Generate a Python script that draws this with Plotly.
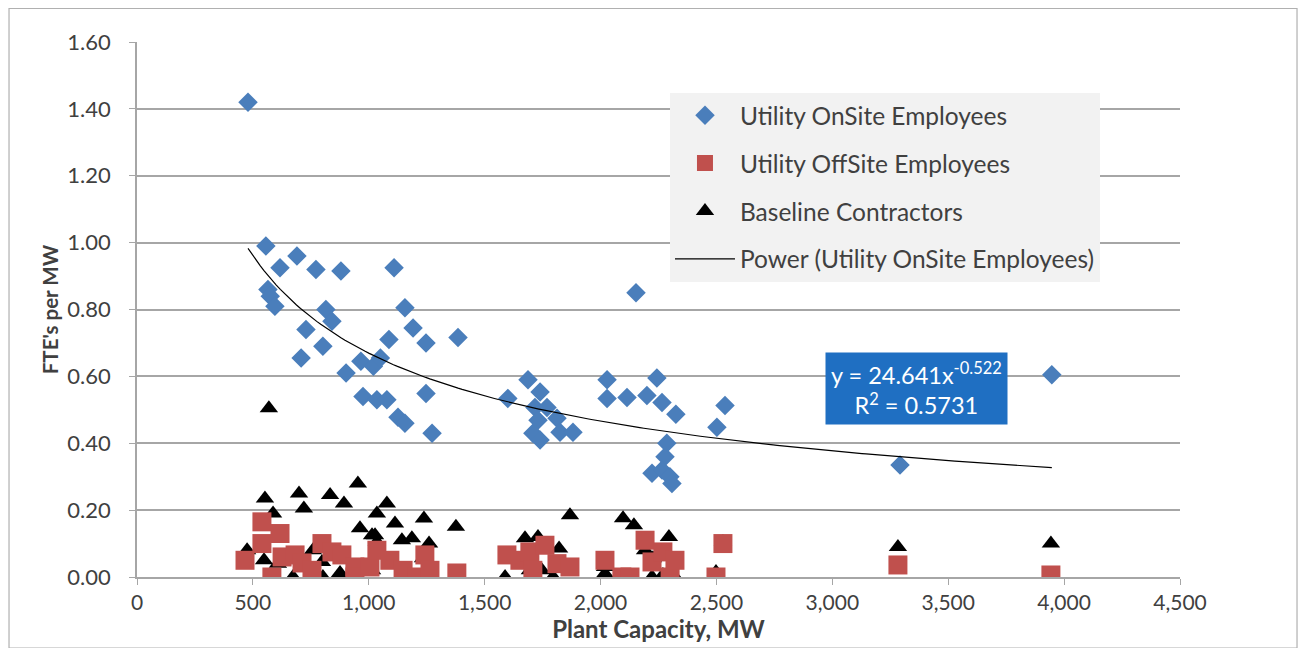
import numpy as np
import plotly.graph_objects as go

# ---- data ----
onsite_x = [479, 556, 565, 575, 595, 617, 690, 708, 729, 772, 802, 815, 841, 880, 902,
            966, 975, 1020, 1050, 1035, 1078, 1087, 1109, 1126, 1156, 1156, 1191, 1247,
            1247, 1273, 1385, 1600, 1687, 1708, 1717, 1730, 1739, 1739, 1769, 1812, 1825,
            1881, 2028, 2028, 2114, 2153, 2200, 2243, 2265, 2286, 2278, 2222, 2265, 2299,
            2308, 2325, 2502, 2537, 3292, 3947]
onsite_y = [1.42, 0.99, 0.86, 0.84, 0.81, 0.925, 0.96, 0.655, 0.74, 0.92, 0.69, 0.80, 0.765,
            0.915, 0.61, 0.645, 0.54, 0.63, 0.655, 0.53, 0.53, 0.71, 0.925, 0.478, 0.46, 0.805,
            0.745, 0.70, 0.549, 0.43, 0.716, 0.534, 0.59, 0.43, 0.507, 0.469, 0.553, 0.41,
            0.507, 0.475, 0.433, 0.433, 0.59, 0.534, 0.537, 0.85, 0.543, 0.595, 0.522, 0.40,
            0.36, 0.31, 0.32, 0.30, 0.28, 0.487, 0.448, 0.513, 0.335, 0.605]

offsite_x = [466, 539, 539, 582, 617, 626, 682, 712, 755, 798, 841, 884, 940, 940, 1005,
             1035, 1091, 1148, 1208, 1242, 1264, 1380, 1596, 1652, 1695, 1708, 1760, 1812,
             1868, 2019, 2092, 2127, 2192, 2222, 2269, 2300, 2321, 2498, 2528, 3283, 3943]
offsite_y = [0.05, 0.165, 0.10, 0.0, 0.13, 0.06, 0.066, 0.042, 0.02, 0.10, 0.075, 0.066,
             0.03, 0.0, 0.03, 0.08, 0.05, 0.02, 0.0, 0.066, 0.02, 0.012, 0.066, 0.05, 0.075,
             0.02, 0.095, 0.04, 0.03, 0.05, 0.0, 0.0, 0.11, 0.045, 0.075, 0.0, 0.05, 0.0,
             0.10, 0.036, 0.006]

contr_x = [475, 548, 552, 569, 587, 608, 673, 699, 720, 759, 798, 802, 833, 876, 893, 953,
           962, 1014, 1014, 1027, 1035, 1035, 1078, 1100, 1113, 1143, 1148, 1186, 1234,
           1238, 1260, 1376, 1588, 1674, 1695, 1730, 1747, 1795, 1821, 1868, 2019, 2019,
           2097, 2144, 2192, 2222, 2226, 2256, 2269, 2295, 2321, 2498, 2528, 3283, 3943]
contr_y = [0.08, 0.05, 0.235, 0.505, 0.19, 0.04, 0.0, 0.25, 0.205, 0.08, 0.045, 0.0, 0.245,
           0.012, 0.22, 0.28, 0.146, 0.125, 0.02, 0.125, 0.19, 0.105, 0.22, 0.05, 0.16,
           0.11, 0.006, 0.116, 0.056, 0.175, 0.10, 0.15, 0.0, 0.116, 0.02, 0.12, 0.02, 0.0,
           0.085, 0.185, 0.03, 0.01, 0.176, 0.155, 0.08, 0.0, 0.056, 0.075, 0.006, 0.12,
           0.0, 0.015, 0.105, 0.09, 0.10]

# Excel power trendline coefficients shown on the chart
trend_a = 24.641
trend_b = -0.522
r_squared = 0.5731

x_ticks = [0, 500, 1000, 1500, 2000, 2500, 3000, 3500, 4000, 4500]
y_ticks = [0.0, 0.2, 0.4, 0.6, 0.8, 1.0, 1.2, 1.4, 1.6]

names = ["Utility OnSite Employees", "Utility OffSite Employees",
         "Baseline Contractors", "Power (Utility OnSite Employees)"]

# ---- figure ----
FONT = "Lato, 'Open Sans', sans-serif"
fig = go.Figure()

fig.add_trace(go.Scatter(x=contr_x, y=contr_y, mode="markers", name=names[2],
                         legendgroup="c", legendrank=3,
                         marker=dict(symbol="triangle-up", size=16, color="#000000")))
fig.add_trace(go.Scatter(x=offsite_x, y=offsite_y, mode="markers", name=names[1],
                         legendgroup="b", legendrank=2,
                         marker=dict(symbol="square", size=19, color="#C0504D")))
fig.add_trace(go.Scatter(x=onsite_x, y=onsite_y, mode="markers", name=names[0],
                         legendgroup="a", legendrank=1,
                         marker=dict(symbol="diamond", size=15, color="#4A7EBB")))

tx = np.linspace(min(onsite_x), max(onsite_x), 200)
ty = trend_a * tx ** trend_b
fig.add_trace(go.Scatter(x=tx, y=ty, mode="lines", name=names[3],
                         legendgroup="d", legendrank=4,
                         line=dict(color="#000000", width=1.2)))

fig.add_annotation(
    x=3365, y=0.564, xref="x", yref="y", xanchor="center", yanchor="middle",
    text=f"y = {trend_a}x<sup>{trend_b}</sup><br>R<sup>2</sup> = {r_squared}",
    showarrow=False, align="center", bgcolor="#1F6FC2", borderpad=5,
    font=dict(family=FONT, size=23.5, color="#FFFFFF"))

# outer chart border
fig.add_shape(type="rect", xref="paper", yref="paper",
              x0=-0.1227, x1=1.1122, y0=-0.1327, y1=1.063,
              line=dict(color="#B0B0B0", width=1.2), fillcolor="rgba(0,0,0,0)", layer="below")

fig.update_layout(
    width=1291, height=640,
    margin=dict(l=129, r=119, t=34, b=71),
    paper_bgcolor="#FFFFFF", plot_bgcolor="#FFFFFF",
    font=dict(family=FONT, size=22, color="#404040"),
    showlegend=True,
    legend=dict(x=0.511, y=0.905, xanchor="left", yanchor="top",
                bgcolor="#F2F2F2", borderwidth=0,
                font=dict(family=FONT, size=24.5, color="#404040"),
                traceorder="grouped", tracegroupgap=13, itemwidth=60),
    xaxis=dict(range=[0, 4500], tickvals=x_ticks, tickformat=",d",
               showgrid=False, zeroline=False, showline=True, linecolor="#A6A6A6",
               linewidth=1.5, ticks="outside", ticklen=6, tickcolor="#A6A6A6",
               tickfont=dict(family=FONT, size=21, color="#404040"),
               title=dict(text="<b>Plant Capacity, MW</b>", standoff=2,
                          font=dict(family=FONT, size=24, color="#404040"))),
    yaxis=dict(range=[0, 1.6], tickvals=y_ticks, tickformat=".2f",
               showgrid=True, gridcolor="#A6A6A6", gridwidth=1.5, zeroline=False,
               showline=True, linecolor="#A6A6A6", linewidth=1.5,
               ticks="outside", ticklen=6, tickcolor="#A6A6A6", ticklabelstandoff=14,
               tickfont=dict(family=FONT, size=22, color="#404040"),
               title=dict(text="<b>FTE's per MW</b>", standoff=3,
                          font=dict(family=FONT, size=20.5, color="#404040"))),
)

fig.write_html("out.html")
